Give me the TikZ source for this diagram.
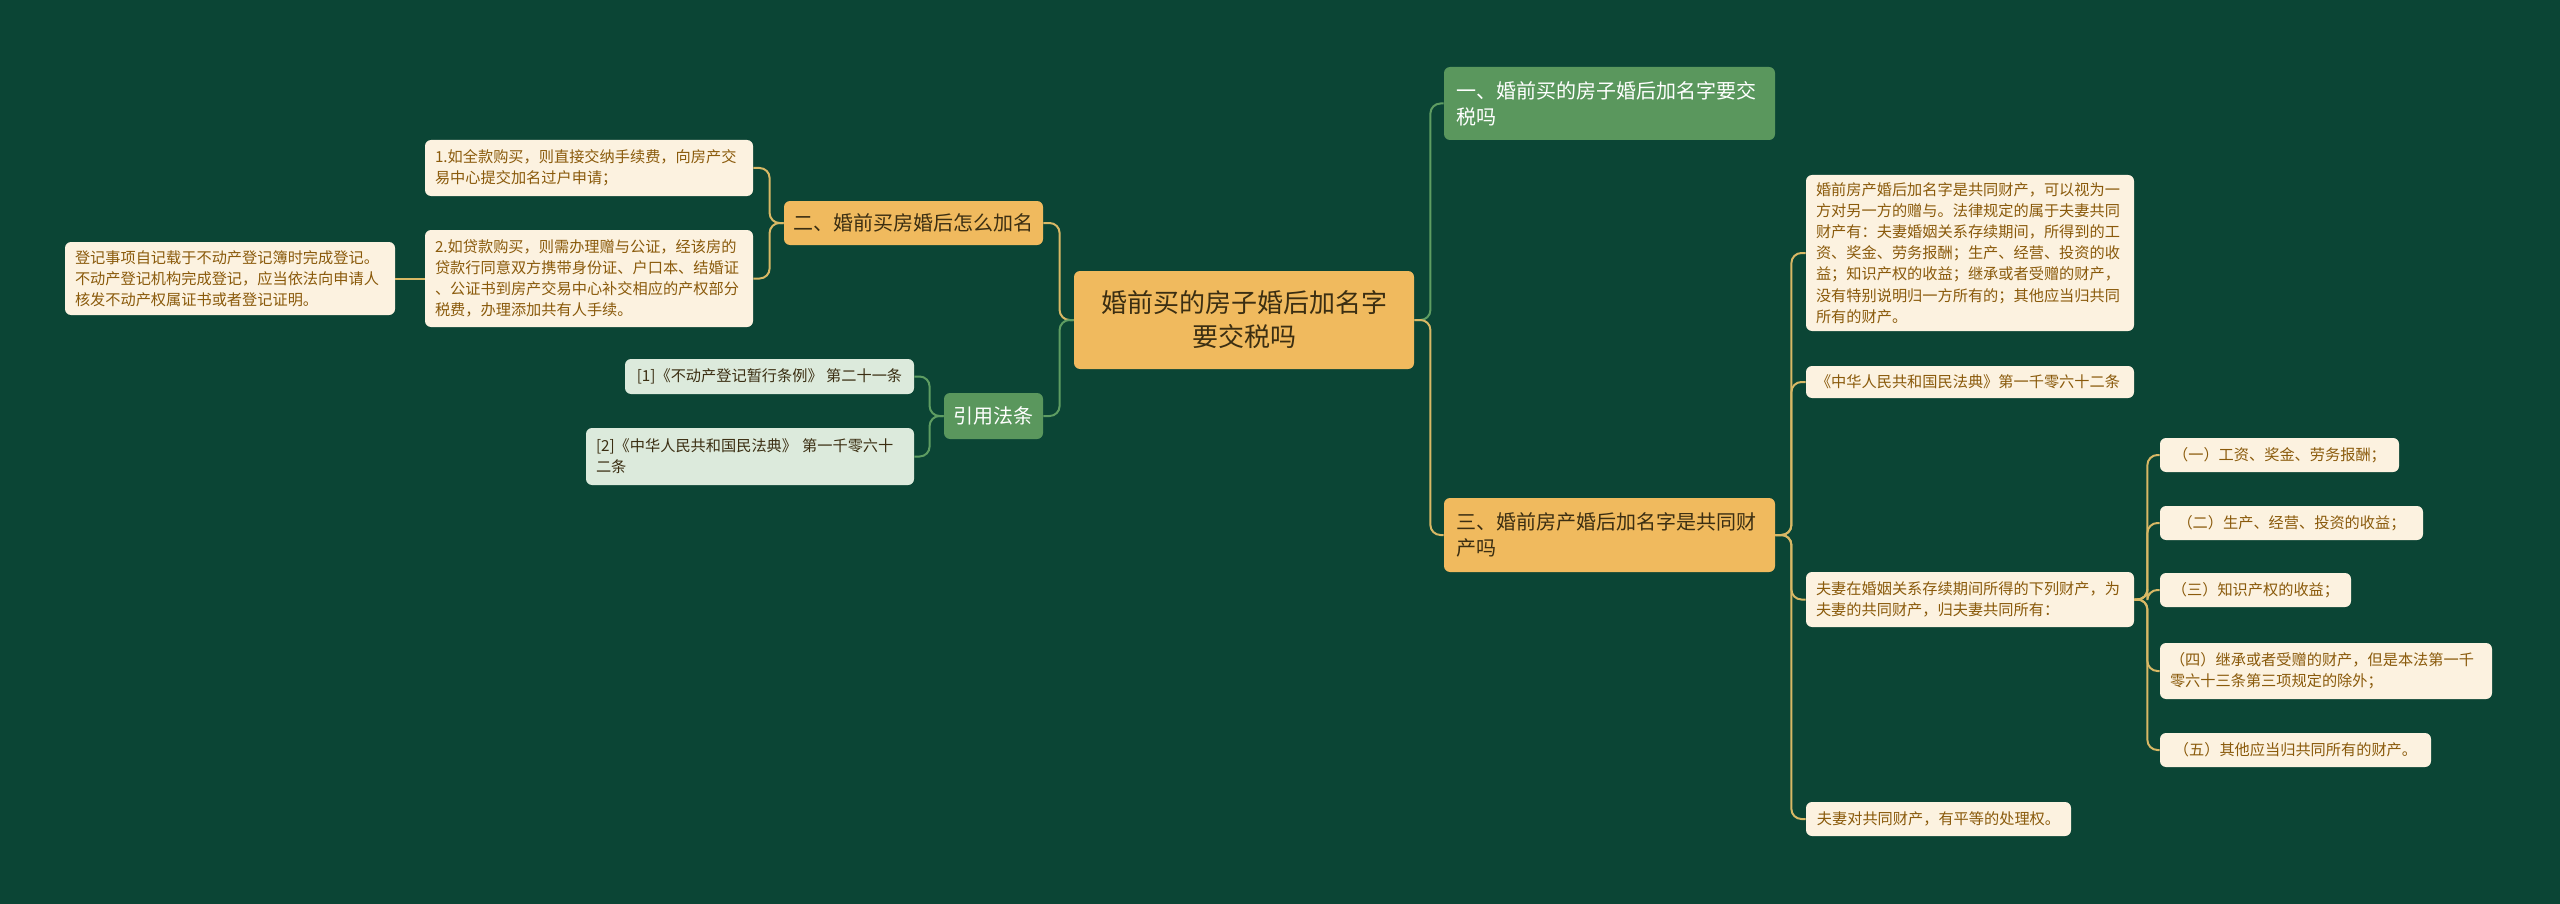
\documentclass[tikz,border=0pt]{standalone}
\usepackage{fontspec}
\setmainfont{Noto Sans CJK SC}
\begin{document}
\begin{tikzpicture}[x=0.5pt,y=-0.5pt,
  base/.style={rounded corners=3pt,inner sep=0pt,align=left},
  leaf/.style={base,fill=cream,text=leaftxt,font=\fontsize{7.6}{10.6}\selectfont},
  gleaf/.style={base,fill=lgreen,text=darktxt,font=\fontsize{7.6}{10.6}\selectfont},
  org/.style={base,fill=orangeF,text=darktxt,font=\fontsize{10}{13}\selectfont},
  grn/.style={base,fill=greenF,text=white,font=\fontsize{10}{13}\selectfont},
  ly/.style={draw=lineY,line width=1pt,rounded corners=5pt},
  lg/.style={draw=lineG,line width=1pt,rounded corners=5pt}]
\definecolor{bg}{HTML}{0B4535}
\definecolor{cream}{HTML}{FCF2E0}
\definecolor{leaftxt}{HTML}{8A5A0B}
\definecolor{darktxt}{HTML}{3B2E12}
\definecolor{lgreen}{HTML}{DCEADC}
\definecolor{orangeF}{HTML}{F0BA5E}
\definecolor{greenF}{HTML}{5A975D}
\definecolor{lineY}{HTML}{D8B865}
\definecolor{lineG}{HTML}{5E9D62}
\fill[bg] (0,0) rectangle (2560,904);
\useasboundingbox (0,0) rectangle (2560,904);
% central
\node[org,font=\fontsize{13}{17}\selectfont,align=center,minimum width=170pt,minimum height=49pt] (c) at (1244,320) {婚前买的房子婚后加名字\\要交税吗};
% right
\node[grn,minimum width=165.5pt,minimum height=36.5pt,text width=153pt] (n1) at (1609.5,103.5) {一、婚前买的房子婚后加名字要交\\税吗};
\node[org,minimum width=165.5pt,minimum height=37pt,text width=153pt] (n3) at (1609.5,535) {三、婚前房产婚后加名字是共同财\\产吗};
\node[leaf,minimum width=164pt,minimum height=78pt,text width=154pt] (r1) at (1970,253) {婚前房产婚后加名字是共同财产，可以视为一\\方对另一方的赠与。法律规定的属于夫妻共同\\财产有：夫妻婚姻关系存续期间，所得到的工\\资、奖金、劳务报酬；生产、经营、投资的收\\益；知识产权的收益；继承或者受赠的财产，\\没有特别说明归一方所有的；其他应当归共同\\所有的财产。};
\node[leaf,minimum width=164pt,minimum height=16pt,text width=154pt] (r2) at (1970,382) {《中华人民共和国民法典》第一千零六十二条};
\node[leaf,minimum width=164pt,minimum height=27.5pt,text width=154pt] (r3) at (1970,599.5) {夫妻在婚姻关系存续期间所得的下列财产，为\\夫妻的共同财产，归夫妻共同所有：};
\node[leaf,minimum width=132.5pt,minimum height=17pt] (r4) at (1938.5,819) {夫妻对共同财产，有平等的处理权。};
\node[leaf,minimum width=119.5pt,minimum height=17pt] (s1) at (2279.5,455) {（一）工资、奖金、劳务报酬；};
\node[leaf,minimum width=131.5pt,minimum height=17pt] (s2) at (2291.5,523) {（二）生产、经营、投资的收益；};
\node[leaf,minimum width=95.5pt,minimum height=17pt] (s3) at (2255.5,590) {（三）知识产权的收益；};
\node[leaf,minimum width=166pt,minimum height=28pt,text width=156pt] (s4) at (2326,671) {（四）继承或者受赠的财产，但是本法第一千\\零六十三条第三项规定的除外；};
\node[leaf,minimum width=135.5pt,minimum height=17pt] (s5) at (2295.5,750) {（五）其他应当归共同所有的财产。};
% left
\node[org,minimum width=129.5pt,minimum height=22pt] (l2) at (913.5,223) {二、婚前买房婚后怎么加名};
\node[leaf,minimum width=164pt,minimum height=28pt,text width=154pt] (a1) at (589,168) {1.如全款购买，则直接交纳手续费，向房产交\\易中心提交加名过户申请；};
\node[leaf,minimum width=164pt,minimum height=48.5pt,text width=154pt] (a2) at (589,278.5) {2.如贷款购买，则需办理赠与公证，经该房的\\贷款行同意双方携带身份证、户口本、结婚证\\、公证书到房产交易中心补交相应的产权部分\\税费，办理添加共有人手续。};
\node[leaf,minimum width=165pt,minimum height=36.5pt,text width=155pt] (d) at (230,278.5) {登记事项自记载于不动产登记簿时完成登记。\\不动产登记机构完成登记，应当依法向申请人\\核发不动产权属证书或者登记证明。};
\node[grn,minimum width=49.5pt,minimum height=23pt] (law) at (993.5,416) {引用法条};
\node[gleaf,minimum width=144.5pt,minimum height=17.5pt] (c1) at (769.5,376.5) {[1]《不动产登记暂行条例》 第二十一条};
\node[gleaf,minimum width=164pt,minimum height=28.5pt,text width=154pt] (c2) at (750,456.5) {[2]《中华人民共和国民法典》 第一千零六十\\二条};
% connectors
\draw[lg] (c.east) -- ++(16,0) |- (n1.west);
\draw[ly] (c.east) -- ++(16,0) |- (n3.west);
\foreach \t in {r1,r2,r3,r4} \draw[ly] (n3.east) -- ++(16,0) |- (\t.west);
\foreach \t in {s1,s2,s3,s4,s5} \draw[ly] (r3.east) -- ++(13,0) |- (\t.west);
\draw[ly] (c.west) -- ++(-14,0) |- (l2.east);
\draw[lg] (c.west) -- ++(-14,0) |- (law.east);
\foreach \t in {a1,a2} \draw[ly] (l2.west) -- ++(-14,0) |- (\t.east);
\draw[ly] (a2.west) -- (d.east);
\foreach \t in {c1,c2} \draw[lg] (law.west) -- ++(-14,0) |- (\t.east);
\end{tikzpicture}
\end{document}
